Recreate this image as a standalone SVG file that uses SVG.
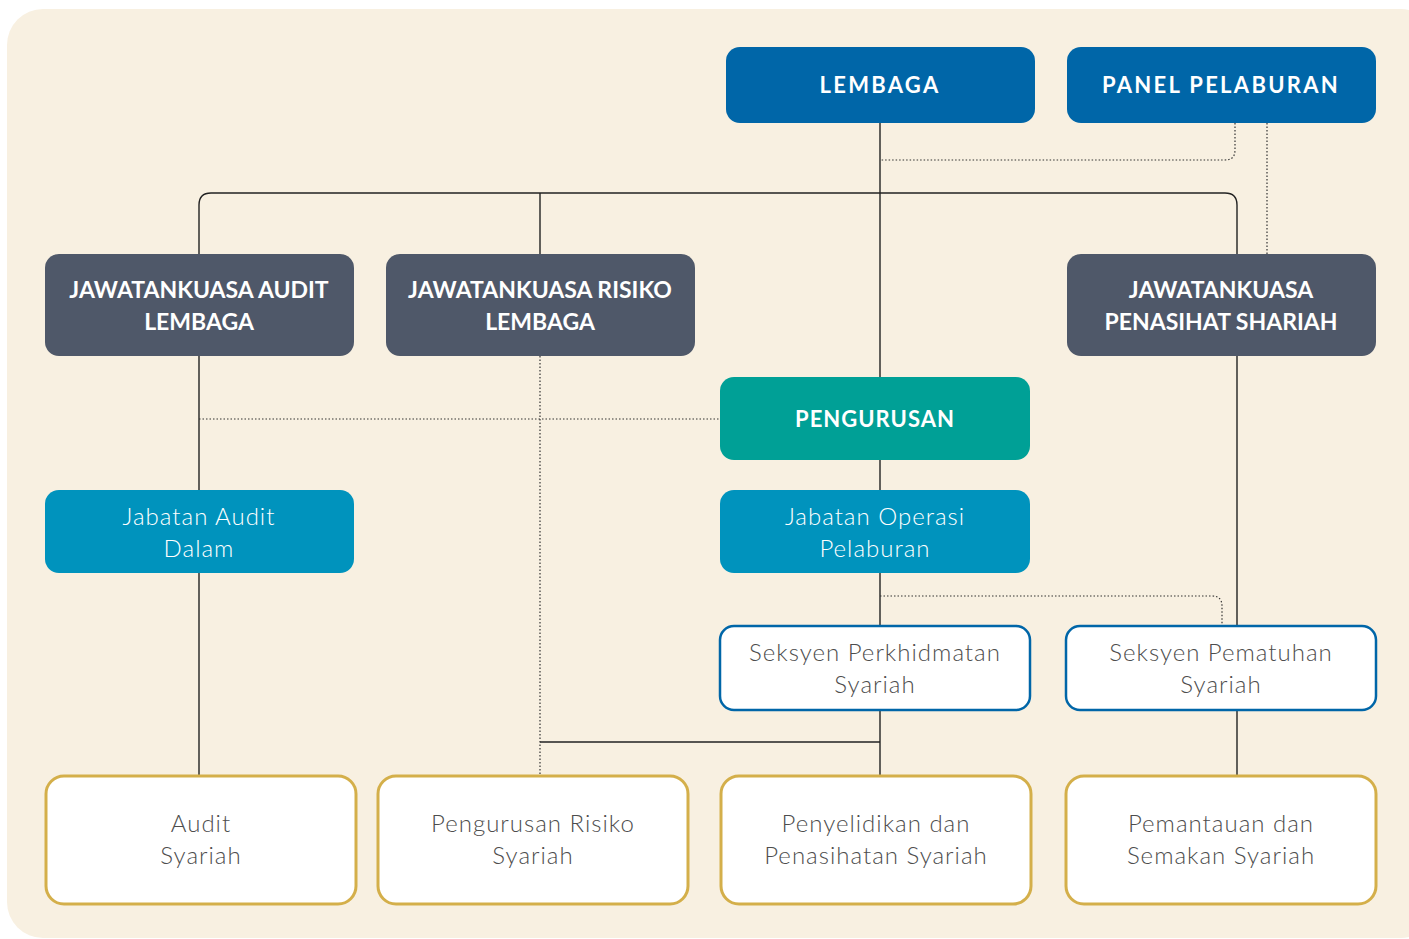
<svg xmlns="http://www.w3.org/2000/svg" width="1409" height="939" viewBox="0 0 1409 939">
<style>
.bg{fill:#F8F0E1}
.top{fill:#0066A8}
.com{fill:#4F5869}
.mgmt{fill:#00A096}
.dept{fill:#0093BD}
.sec{fill:#fff;stroke:#0066A8;stroke-width:2.5}
.unit{fill:#fff;stroke:#D4AF4A;stroke-width:3}
.h{font-family:"Lato","Liberation Sans",sans-serif;font-weight:700;fill:#fff;text-anchor:middle;font-size:23px}
.hs{letter-spacing:2.3px;font-size:22px}
.hm{letter-spacing:1px;font-size:22px}
.b{font-family:"Lato","Liberation Sans",sans-serif;font-weight:300;text-anchor:middle;font-size:24px;letter-spacing:1px}
.bw{fill:#fff}
.bg2{fill:#4D4D4D}
.ln{fill:none;stroke:#222;stroke-width:1.4}
.dt{fill:none;stroke:#333;stroke-width:1.2;stroke-dasharray:1.5 2}
</style>
<rect class="bg" x="7" y="9" width="1430" height="929" rx="36"/>
<g id="connectors">
<path class="ln" d="M199 254 V205 Q199 193 211 193 H1225 Q1237 193 1237 205 V254"/>
<path class="ln" d="M540 193 V254"/>
<path class="ln" d="M880 123 V377"/>
<path class="ln" d="M880 460 V490"/>
<path class="ln" d="M880 573 V626"/>
<path class="ln" d="M880 710 V776"/>
<path class="ln" d="M540 742 H880"/>
<path class="ln" d="M199 356 V490"/>
<path class="ln" d="M199 573 V776"/>
<path class="ln" d="M1237 356 V626"/>
<path class="ln" d="M1237 710 V776"/>
<path class="dt" d="M1235 123 V150 Q1235 160 1225 160 H880"/>
<path class="dt" d="M1267 123 V254"/>
<path class="dt" d="M540 356 V776"/>
<path class="dt" d="M199 419 H720"/>
<path class="dt" d="M880 596 H1212 Q1222 596 1222 606 V626"/>
</g>
<g id="lembaga"><rect class="top" x="726" y="47" width="309" height="76" rx="14"/><text class="h hs" x="880" y="93">LEMBAGA</text></g>
<g id="panel"><rect class="top" x="1067" y="47" width="309" height="76" rx="14"/><text class="h hs" x="1221" y="93">PANEL PELABURAN</text></g>
<g id="jk-audit"><rect class="com" x="45" y="254" width="309" height="102" rx="14"/><text class="h" x="199" y="298">JAWATANKUASA AUDIT</text><text class="h" x="199" y="330">LEMBAGA</text></g>
<g id="jk-risiko"><rect class="com" x="386" y="254" width="309" height="102" rx="14"/><text class="h" x="540" y="298">JAWATANKUASA RISIKO</text><text class="h" x="540" y="330">LEMBAGA</text></g>
<g id="jk-shariah"><rect class="com" x="1067" y="254" width="309" height="102" rx="14"/><text class="h" x="1221" y="298">JAWATANKUASA</text><text class="h" x="1221" y="330">PENASIHAT SHARIAH</text></g>
<g id="pengurusan"><rect class="mgmt" x="720" y="377" width="310" height="83" rx="14"/><text class="h hm" x="875" y="427">PENGURUSAN</text></g>
<g id="jab-audit"><rect class="dept" x="45" y="490" width="309" height="83" rx="14"/><text class="b bw" x="199" y="525">Jabatan Audit</text><text class="b bw" x="199" y="557">Dalam</text></g>
<g id="jab-operasi"><rect class="dept" x="720" y="490" width="310" height="83" rx="14"/><text class="b bw" x="875" y="525">Jabatan Operasi</text><text class="b bw" x="875" y="557">Pelaburan</text></g>
<g id="sek-perkhidmatan"><rect class="sec" x="720" y="626" width="310" height="84" rx="14"/><text class="b bg2" x="875" y="661">Seksyen Perkhidmatan</text><text class="b bg2" x="875" y="693">Syariah</text></g>
<g id="sek-pematuhan"><rect class="sec" x="1066" y="626" width="310" height="84" rx="14"/><text class="b bg2" x="1221" y="661">Seksyen Pematuhan</text><text class="b bg2" x="1221" y="693">Syariah</text></g>
<g id="audit-syariah"><rect class="unit" x="46" y="776" width="310" height="128" rx="18"/><text class="b bg2" x="201" y="832">Audit</text><text class="b bg2" x="201" y="864">Syariah</text></g>
<g id="risiko-syariah"><rect class="unit" x="378" y="776" width="310" height="128" rx="18"/><text class="b bg2" x="533" y="832">Pengurusan Risiko</text><text class="b bg2" x="533" y="864">Syariah</text></g>
<g id="penyelidikan"><rect class="unit" x="721" y="776" width="310" height="128" rx="18"/><text class="b bg2" x="876" y="832">Penyelidikan dan</text><text class="b bg2" x="876" y="864">Penasihatan Syariah</text></g>
<g id="pemantauan"><rect class="unit" x="1066" y="776" width="310" height="128" rx="18"/><text class="b bg2" x="1221" y="832">Pemantauan dan</text><text class="b bg2" x="1221" y="864">Semakan Syariah</text></g>
</svg>
